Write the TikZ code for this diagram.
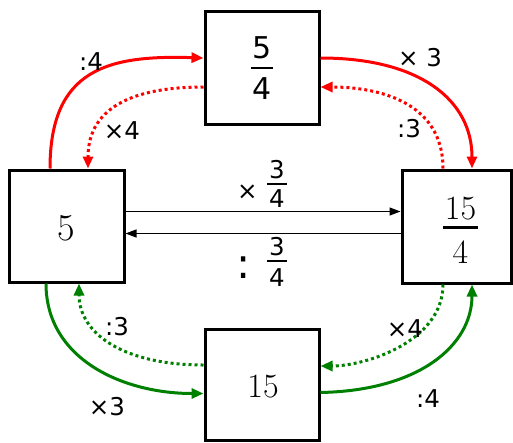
\documentclass[tikz,border=0pt]{standalone}
\usepackage{fontspec}
\newfontfamily\dvs{DejaVu Sans}
\usetikzlibrary{arrows.meta,calc}
\definecolor{myred}{RGB}{255,0,0}
\definecolor{mygreen}{RGB}{0,128,0}
% num, den, bar width, bar thickness, gap above bar, gap below bar
\newcommand\stackfr[6]{\vbox{\offinterlineskip\halign{\hfil##\hfil\cr #1\cr\noalign{\kern#5}\vrule width #3 height #4 depth 0pt\cr\noalign{\kern#6}#2\cr}}}
\newcommand\heavy{\addfontfeature{FakeBold=2}}
\begin{document}
\begin{tikzpicture}[x=1pt,y=-1pt,
  box/.style={draw, line width=3pt, rectangle, inner sep=0pt},
  lbl/.style={font=\dvs\fontsize{24.5}{28}\selectfont, inner sep=0pt},
  numtxt/.style={inner sep=0pt},
  rsolid/.style={color=myred, line width=3pt, -{Triangle[length=12pt,width=10pt]}},
  rdot/.style={color=myred, line width=3pt, dash pattern=on 3pt off 3pt, -{Triangle[length=12pt,width=10pt]}},
  gsolid/.style={color=mygreen, line width=3pt, -{Triangle[length=12pt,width=10pt]}},
  gdot/.style={color=mygreen, line width=3pt, dash pattern=on 3pt off 3pt, -{Triangle[length=12pt,width=10pt]}},
  thin/.style={black, line width=1.3pt, -{Triangle[length=11pt,width=8pt]}}
]
\useasboundingbox (0,0) rectangle (513,442);

% boxes
\node[box, minimum width=115pt, minimum height=112pt] (L) at (66.5,226) {};
\node[box, minimum width=114pt, minimum height=113pt] (T) at (262,67.5) {};
\node[box, minimum width=109.5pt, minimum height=113pt] (R) at (456.75,226.5) {};
\node[box, minimum width=114pt, minimum height=111pt] (B) at (262,384.5) {};

% box contents
\node[numtxt, font=\fontsize{38}{44}\selectfont\heavy] (Ltxt) at (66.5,228.5) {5};
\node[numtxt, font=\dvs\fontsize{30}{36}\selectfont] (Ttxt) at (262,68) {\stackfr{5}{4}{22pt}{2pt}{8pt}{9pt}};
\node[numtxt, font=\fontsize{34}{40}\selectfont\heavy] (Rtxt) at (460.5,230.5) {\stackfr{15}{4}{35pt}{2.5pt}{6pt}{12pt}};
\node[numtxt, font=\fontsize{34}{40}\selectfont\heavy] (Btxt) at (263,387) {15};

% red arrows
\draw[rsolid] ($(L.north)+(-16.5,0)$) .. controls +(0,-100) and +(-95,-3) .. ($(T.west)+(0,-9.5)$);
\draw[rdot] ($(T.west)+(0,19.5)$) .. controls +(-63,0) and +(0,-65) .. ($(L.north)+(21.5,0)$);
\draw[rsolid] ($(T.east)+(0,-9.5)$) .. controls +(100,0) and +(0,-68) .. ($(R.north)+(15.25,0)$);
\draw[rdot] ($(R.north)+(-13.75,0)$) .. controls +(0,-68) and +(55,0) .. ($(T.east)+(0,19.5)$);

% green arrows
\draw[gsolid] ($(L.south)+(-20.5,0)$) .. controls +(0,76) and +(-80,0) .. ($(B.west)+(0,9)$);
\draw[gdot] ($(B.west)+(0,-19.5)$) .. controls +(-80,0) and +(0,50) .. ($(L.south)+(12.5,0)$);
\draw[gsolid] ($(B.east)+(0,8)$) .. controls +(100,-2) and +(0,60) .. ($(R.south)+(15.25,0)$);
\draw[gdot] ($(R.south)+(-13.75,0)$) .. controls +(0,57) and +(45,0) .. ($(B.east)+(0,-18.5)$);

% black arrows
\draw[thin] ($(L.east)+(0,-14.5)$) -- ($(R.west)+(0,-15)$);
\draw[thin] ($(R.west)+(0,7)$) -- ($(L.east)+(0,7.5)$);

% labels
\node[lbl] (l1) at (91,62) {:4};
\node[lbl] (l2) at (122,131) {×4};
\node[lbl] (l3) at (420,58) {× 3};
\node[lbl] (l4) at (409,129) {:3};
\node[lbl] (l5) at (117,327) {:3};
\node[lbl] (l6) at (107,407) {×3};
\node[lbl] (l7) at (405,329) {×4};
\node[lbl] (l8) at (428,399) {:4};

% middle labels
\node[lbl] (mx) at (247.4,192) {×};
\node[lbl] (mf1) at (277,184) {\stackfr{3}{4}{20pt}{2pt}{4.5pt}{5pt}};
\node[numtxt, font=\dvs\fontsize{42}{48}\selectfont] (mc) at (244,268) {:};
\node[lbl] (mf2) at (277,262) {\stackfr{3}{4}{20pt}{2pt}{4pt}{7pt}};
\end{tikzpicture}
\end{document}
